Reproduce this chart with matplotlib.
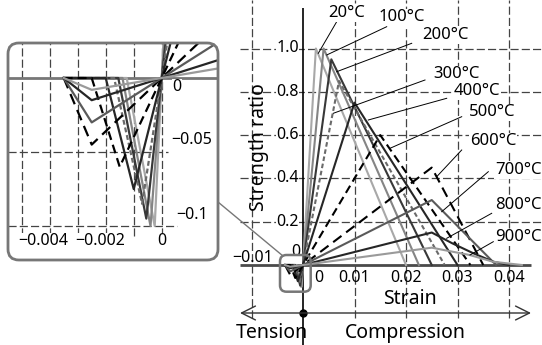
import numpy as np
import matplotlib.pyplot as plt
from matplotlib.patches import FancyBboxPatch
from matplotlib.lines import Line2D

plt.rcParams['font.family'] = ['Noto Sans', 'DejaVu Sans']

W, H = 542, 345

# Datos (relación de resistencia vs deformación)
temps = [20, 100, 200, 300, 400, 500, 600, 700, 800, 900]
comp_peak_strain = [0.0025, 0.004, 0.0055, 0.007, 0.01, 0.015, 0.025, 0.025, 0.025, 0.025]
comp_peak_ratio = [1.0, 1.0, 0.95, 0.85, 0.75, 0.60, 0.45, 0.30, 0.15, 0.08]
comp_ult_strain = [0.02, 0.0225, 0.025, 0.0275, 0.03, 0.0325, 0.035, 0.0375, 0.04, 0.0425]
tail_800_strain = [0.029, 0.033, 0.037]
tail_800_ratio = [0.10, 0.055, 0.015]
tail_900_strain = [0.0324, 0.0369]
tail_900_ratio = [0.046, 0.015]
tens_peak_strain = [-0.00025, -0.0004, -0.00055, -0.0007, -0.001, -0.0015, -0.0025, -0.0025, -0.0025, -0.0025]
tens_peak_ratio = [-0.1, -0.1, -0.095, -0.085, -0.075, -0.06, -0.045, -0.03, -0.015, -0.008]
tens_ult_strain = [-0.00125, -0.0014, -0.00155, -0.0017, -0.002, -0.0025, -0.0035, -0.0035, -0.0035, -0.0035]
tens_start = -0.0035

colors = ['#a8a8a8', '#858585', '#383838', '#6a6a6a', '#262626',
          'black', 'black', '#5a5a5a', '#262626', '#9a9a9a']
styles = ['-', '-', '-', (0, (2.2, 1.3)), '-', (0, (4, 2.3)), (0, (5, 2.8)), '-', '-', '-']


def curve(i):
    xs = [tens_start, tens_ult_strain[i], tens_peak_strain[i], 0.0, comp_peak_strain[i]]
    ys = [0.0, 0.0, tens_peak_ratio[i], 0.0, comp_peak_ratio[i]]
    if temps[i] == 800:
        xs += tail_800_strain
        ys += tail_800_ratio
    if temps[i] == 900:
        xs += tail_900_strain
        ys += tail_900_ratio
    xs.append(comp_ult_strain[i])
    ys.append(0.0)
    return xs, ys


# pixel -> datos (eje principal)
def mx(px):
    return (px - 303) / 5150.0


def my(py):
    return (265 - py) / 216.5


# pixel -> datos (recuadro)
def ix(px):
    return (px - 161.7) / 28000.0


def iy(py):
    return (78 - py) / 1480.0


fig = plt.figure(figsize=(W / 100, H / 100), dpi=100)

grid_kw = dict(color='#444444', lw=0.9, linestyles=[(0, (6.5, 2.5))])
white = dict(fc='white', ec='none', pad=0.4)
FS_TICK = 11.5
FS_TEMP = 12
FS_LAB = 14

# ---------------- eje principal ----------------
ax = fig.add_axes([240 / W, 0, 302 / W, 1])
ax.set_xlim(mx(240), mx(542))
ax.set_ylim(my(345), my(0))
ax.axis('off')

ax.hlines([0.2, 0.4, 0.6, 0.8, 1.0], mx(240), mx(542), **grid_kw)
ax.vlines([-0.01, 0.01, 0.02, 0.03, 0.04], my(318), my(0), **grid_kw)
ax.hlines(0, mx(240), mx(531), color='#4a4a4a', lw=2)
ax.vlines(0, my(345), my(8), color='black', lw=1.2)

for i in range(len(temps)):
    xs, ys = curve(i)
    ax.plot(xs, ys, color=colors[i], linestyle=styles[i], lw=1.5)

for v in [0.2, 0.4, 0.6, 0.8, 1.0]:
    ax.text(mx(299), v, '%.1f' % v, ha='right', va='center', fontsize=FS_TICK, bbox=white)
ax.text(mx(300), my(252), '0', ha='right', va='center', fontsize=FS_TICK)
ax.text(mx(253), my(258), '−0.01', ha='center', va='center', fontsize=FS_TICK)
ax.text(mx(319), my(278), '0', ha='center', va='center', fontsize=FS_TICK)
for v in [0.01, 0.02, 0.03, 0.04]:
    ax.text(v, my(278), '%.2f' % v, ha='center', va='center', fontsize=FS_TICK)

ax.text(mx(410), my(299), 'Strain', ha='center', va='center', fontsize=FS_LAB)
ax.text(mx(259), my(147), 'Strength ratio', ha='center', va='center',
        rotation=90, fontsize=FS_LAB)

# etiquetas de temperatura con líneas guía
label_pos = [(347, 13), (402, 17), (445, 35), (456, 74), (477, 91),
             (492, 112), (493, 141), (518, 170), (518, 205), (518, 237)]
leader_from = [(336.7, 21.7), (386.7, 26.7), (411.7, 43.3), (425, 80), (446.7, 98.3),
               (461.7, 116.7), (461.7, 150), (488.3, 171.7), (491.7, 213.3), (493.3, 241.7)]
leader_to = [(318.3, 53.3), (326.7, 55), (336.7, 71.7), (333.3, 113.3), (368.3, 120),
             (390, 148.3), (436.7, 176.7), (441.7, 211.7), (446.7, 238.3), (470, 255)]
for i, t in enumerate(temps):
    (a, b), (c, d) = leader_from[i], leader_to[i]
    ax.plot([mx(a), mx(c)], [my(b), my(d)], color='black', lw=0.7)
    px, py = label_pos[i]
    ax.text(mx(px), my(py), '%d°C' % t, ha='center', va='center', fontsize=FS_TEMP,
            bbox=white, clip_on=False)

# flecha tensión / compresión
ya = my(313)
ax.annotate('', xy=(mx(240), ya), xytext=(mx(531), ya),
            arrowprops=dict(arrowstyle='<->,head_length=1.0,head_width=0.5',
                            lw=1, color='#333333', shrinkA=0, shrinkB=0))
ax.plot(0, ya, 'o', ms=5, color='black')
ax.text(mx(272), my(333), 'Tension', ha='center', va='center', fontsize=FS_LAB)
ax.text(mx(405), my(333), 'Compression', ha='center', va='center', fontsize=FS_LAB)

# recuadro pequeño alrededor del origen
small = FancyBboxPatch((280 / W, (H - 291.7) / H), 30.7 / W, 36.7 / H,
                       boxstyle='round,pad=0,rounding_size=0.012', mutation_aspect=W / H,
                       transform=fig.transFigure, fc='none', ec='#777777', lw=1.8)
fig.add_artist(small)
fig.add_artist(Line2D([218 / W, 283 / W], [(H - 202) / H, (H - 256) / H],
                      transform=fig.transFigure, color='#777777', lw=1))

# ---------------- recuadro ampliado ----------------
ins = fig.add_axes([8 / W, (H - 260) / H, 210 / W, 217 / H])
ins.set_xlim(ix(8), ix(218))
ins.set_ylim(iy(260), iy(43))
ins.axis('off')

clip = FancyBboxPatch((8 / W, (H - 260) / H), 210 / W, 217 / H,
                      boxstyle='round,pad=0,rounding_size=0.02', mutation_aspect=W / H,
                      transform=fig.transFigure, fc='none', ec='none')

ins.vlines([-0.005, -0.004, -0.003, -0.002, -0.001, 0.0], iy(236), iy(43), **grid_kw)
ins.hlines(-0.05, ix(8), ix(168), **grid_kw)
ins.hlines(-0.1, ix(8), ix(177), **grid_kw)
ins.hlines(0, ix(8), ix(218), color='#777777', lw=2)

for i in range(len(temps)):
    xs, ys = curve(i)
    ln, = ins.plot(xs, ys, color=colors[i], linestyle=styles[i], lw=1.6)
    ln.set_clip_path(clip)

ins.text(ix(172), iy(87), '0', ha='left', va='center', fontsize=FS_TICK, bbox=white)
ins.text(ix(171), iy(140), '−0.05', ha='left', va='center', fontsize=FS_TICK, bbox=white)
ins.text(ix(176), iy(215), '−0.1', ha='left', va='center', fontsize=FS_TICK, bbox=white)
ins.text(ix(43), iy(241), '−0.004', ha='center', va='center', fontsize=FS_TICK, bbox=white)
ins.text(ix(100), iy(241), '−0.002', ha='center', va='center', fontsize=FS_TICK, bbox=white)
ins.text(ix(162), iy(241), '0', ha='center', va='center', fontsize=FS_TICK, bbox=white)

border = FancyBboxPatch((8 / W, (H - 260) / H), 210 / W, 217 / H,
                        boxstyle='round,pad=0,rounding_size=0.02', mutation_aspect=W / H,
                        transform=fig.transFigure, fc='none', ec='#777777', lw=2)
fig.add_artist(border)

fig.savefig('out.png', dpi=100)
